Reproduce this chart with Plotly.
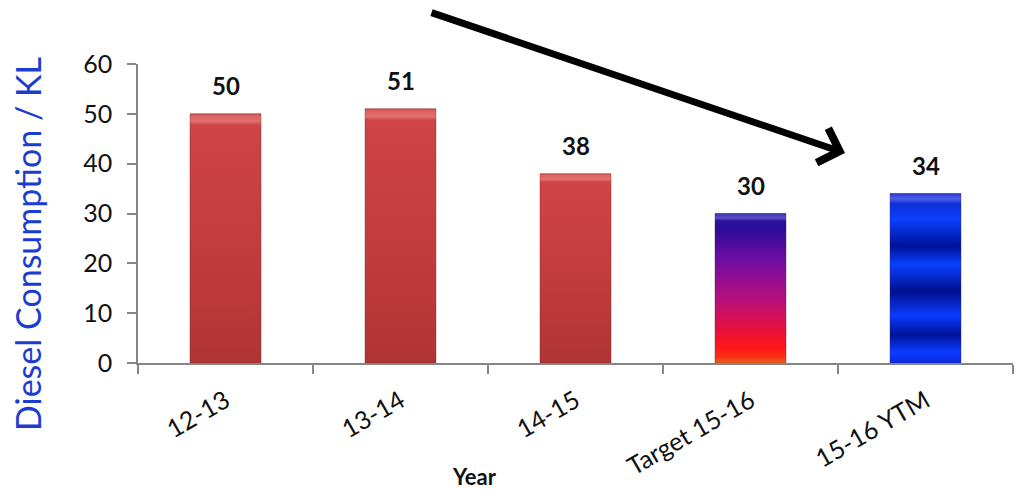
import plotly.graph_objects as go

# Diesel consumption per financial year (KL)
years = ["12-13", "13-14", "14-15", "Target 15-16", "15-16 YTM"]
consumption = [50, 51, 38, 30, 34]
y_ticks = [0, 10, 20, 30, 40, 50, 60]

# Vertical shading for each bar (bottom -> top)
RED = [[0, "#b03434"], [0.5, "#c43d3d"], [0.955, "#cf4444"],
       [0.97, "#e27070"], [0.99, "#dc6464"], [1, "#c85050"]]
TARGET = [[0, "#e8641a"], [0.04, "#f83018"], [0.1, "#ff1818"],
          [0.22, "#e8103c"], [0.42, "#b8107c"], [0.69, "#700ca2"],
          [0.9, "#2c0c98"], [0.95, "#2c129c"], [0.97, "#5a52c8"],
          [1, "#3a30b0"]]
YTM = [[0, "#0a2ae0"], [0.065, "#0a3cff"], [0.165, "#00129a"],
       [0.28, "#0a3cff"], [0.42, "#00108f"], [0.58, "#0a40ff"],
       [0.69, "#00129a"], [0.85, "#0a40ff"], [0.94, "#1030d8"],
       [0.97, "#5060e8"], [1, "#2a3ad0"]]
shades = [RED, RED, RED, TARGET, YTM]
base_colors = ["#c43d3d", "#c43d3d", "#c43d3d", "#8a0c90", "#0a30e0"]

BAR_W = 0.406
xs = list(range(len(years)))

fig = go.Figure()

fig.add_trace(go.Bar(
    x=xs, y=consumption, width=BAR_W,
    marker=dict(color=base_colors, line=dict(width=0)),
    hoverinfo="skip", showlegend=False,
))

# gradient overlay on each bar, spanning the same x-width and height
for i, v in enumerate(consumption):
    x0, x1 = i - BAR_W / 2, i + BAR_W / 2
    fig.add_trace(go.Scatter(
        x=[x0, x1, x1, x0, x0], y=[0, 0, v, v, 0],
        mode="lines", line=dict(width=0.8, color="rgba(80,30,30,0.35)"),
        fill="toself",
        fillgradient=dict(type="vertical", colorscale=shades[i],
                          start=0, stop=v),
        hoverinfo="skip", showlegend=False,
    ))

annotations = []
for i, v in enumerate(consumption):
    annotations.append(dict(
        x=i, y=v, xref="x", yref="y", text=f"<b>{v}</b>",
        showarrow=False, yshift=28,
        font=dict(family="Lato", size=24, color="#111111"),
    ))

# trend arrow
annotations.append(dict(
    x=0.808, y=0.702, xref="paper", yref="paper",
    ax=-415, ay=-141, axref="pixel", ayref="pixel", text="",
    showarrow=True, arrowhead=4, arrowsize=1.0, arrowwidth=7,
    arrowcolor="#000000",
))

annotations.append(dict(
    x=-0.1257, y=0.398, xref="paper", yref="paper",
    text="Diesel Consumption / KL", textangle=-90, showarrow=False,
    xanchor="center", yanchor="middle",
    font=dict(family="Lato", size=34, color="#1a3cd0"),
))
annotations.append(dict(
    x=0.384, y=-0.378, xref="paper", yref="paper",
    text="<b>Year</b>", showarrow=False,
    xanchor="center", yanchor="middle",
    font=dict(family="Lato", size=22, color="#111111"),
))

fig.update_layout(
    width=1018, height=490,
    margin=dict(l=138, r=5, t=64, b=127),
    paper_bgcolor="white", plot_bgcolor="white",
    annotations=annotations,
    xaxis=dict(
        range=[-0.5, 4.5], tickmode="array", tickvals=xs, ticktext=years,
        tickangle=-30, ticks="", showgrid=False, zeroline=False,
        showline=True, linecolor="#868686", linewidth=1.5,
        ticklabelstandoff=12,
        tickfont=dict(family="Lato", size=25, color="#111111"),
        minor=dict(ticks="outside", tick0=-0.5, dtick=1, ticklen=9,
                   tickcolor="#868686", tickwidth=1.5, showgrid=False),
        fixedrange=True,
    ),
    yaxis=dict(
        range=[0, 60], tickmode="array", tickvals=y_ticks,
        ticks="outside", ticklen=9, tickcolor="#868686", tickwidth=1.5,
        showgrid=False, zeroline=False,
        showline=True, linecolor="#868686", linewidth=1.5,
        ticklabelstandoff=10,
        tickfont=dict(family="Lato", size=25, color="#111111"),
        fixedrange=True,
    ),
)

fig.write_html("out.html")
